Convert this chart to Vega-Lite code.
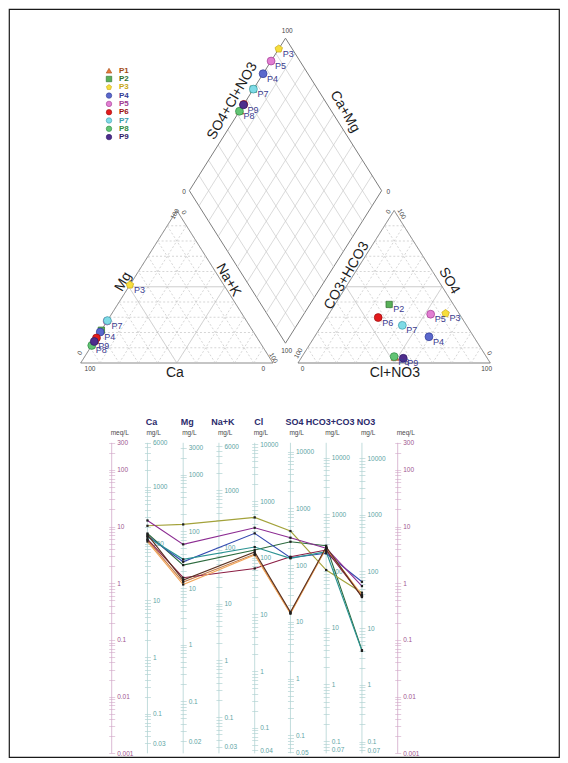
{
  "$schema": "https://vega.github.io/schema/vega-lite/v6.json",
  "width": 550,
  "height": 748,
  "padding": {"left": 9, "top": 9, "right": 9, "bottom": 6},
  "autosize": {"type": "none"},
  "background": "#ffffff",
  "config": {
    "view": {"stroke": "#1a1a1a", "strokeWidth": 1.2},
    "font": "Liberation Sans"
  },
  "datasets": {
    "levels": [{"k": 0}, {"k": 10}, {"k": 20}, {"k": 30}, {"k": 40}, {"k": 50}, {"k": 60}, {"k": 70}, {"k": 80}, {"k": 90}, {"k": 100}],
    "piper": [
      {"id": "P1", "Ca": 85.0, "Mg": 15.0, "NaK": 0, "HCO3": 47.5, "SO4": 4.0, "Cl": 48.5},
      {"id": "P2", "Ca": 78.5, "Mg": 21.5, "NaK": 0, "HCO3": 33.4, "SO4": 38.4, "Cl": 28.2},
      {"id": "P3", "Ca": 48.8, "Mg": 51.2, "NaK": 0, "HCO3": 7.0, "SO4": 32.5, "Cl": 60.5},
      {"id": "P4", "Ca": 79.7, "Mg": 20.3, "NaK": 0, "HCO3": 23.3, "SO4": 17.2, "Cl": 59.5},
      {"id": "P5", "Ca": 72.5, "Mg": 27.5, "NaK": 0, "HCO3": 15.0, "SO4": 32.0, "Cl": 53.0},
      {"id": "P6", "Ca": 83.6, "Mg": 16.4, "NaK": 0, "HCO3": 43.4, "SO4": 29.8, "Cl": 26.8},
      {"id": "P7", "Ca": 72.2, "Mg": 27.8, "NaK": 0, "HCO3": 33.4, "SO4": 24.7, "Cl": 41.9},
      {"id": "P8", "Ca": 88.5, "Mg": 11.5, "NaK": 0, "HCO3": 47.9, "SO4": 4.2, "Cl": 47.9},
      {"id": "P9", "Ca": 85.9, "Mg": 14.1, "NaK": 0, "HCO3": 43.7, "SO4": 3.1, "Cl": 53.2}
    ],
    "ann": [
      {"t": "Mg", "kind": "t", "edge": "l", "x1": 22.15, "y1": 53.3},
      {"t": "Ca", "kind": "t", "edge": "h", "x1": 49.0, "y1": -6.4},
      {"t": "Na+K", "kind": "t", "edge": "r", "x1": 76.75, "y1": 54.4},
      {"t": "SO4+Cl+NO3", "kind": "t", "edge": "l", "x1": 78.9, "y1": 171.8},
      {"t": "Ca+Mg", "kind": "t", "edge": "r", "x1": 137.4, "y1": 164.8},
      {"t": "CO3+HCO3", "kind": "t", "edge": "l", "x1": 138.3, "y1": 57.2},
      {"t": "SO4", "kind": "t", "edge": "r", "x1": 191.6, "y1": 53.9},
      {"t": "Cl+NO3", "kind": "t", "edge": "h", "x1": 163.4, "y1": -6.4},
      {"t": "100", "kind": "n", "edge": "h", "x1": 4.84, "y1": -3.9},
      {"t": "0", "kind": "n", "edge": "h", "x1": 94.96, "y1": -4.1},
      {"t": "0", "kind": "n", "edge": "l", "x1": -0.36, "y1": 6.56},
      {"t": "100", "kind": "n", "edge": "l", "x1": 49.04, "y1": 97.7},
      {"t": "0", "kind": "n", "edge": "r", "x1": 53.7, "y1": 98.6},
      {"t": "100", "kind": "n", "edge": "r", "x1": 100.2, "y1": 3.3},
      {"t": "0", "kind": "n", "edge": "h", "x1": 115.4, "y1": -4.1},
      {"t": "100", "kind": "n", "edge": "h", "x1": 211.1, "y1": -4.1},
      {"t": "100", "kind": "n", "edge": "l", "x1": 113.2, "y1": 6.4},
      {"t": "0", "kind": "n", "edge": "l", "x1": 159.96, "y1": 99.2},
      {"t": "100", "kind": "n", "edge": "r", "x1": 166.9, "y1": 97.7},
      {"t": "0", "kind": "n", "edge": "r", "x1": 212.5, "y1": 6.4},
      {"t": "100", "kind": "n", "edge": "h", "x1": 107.4, "y1": 217.9},
      {"t": "0", "kind": "n", "edge": "h", "x1": 53.7, "y1": 112.3},
      {"t": "0", "kind": "n", "edge": "h", "x1": 159.96, "y1": 112.3},
      {"t": "100", "kind": "n", "edge": "h", "x1": 107.1, "y1": 8.1}
    ],
    "schoeller": [
      {"id": "P1", "Ca": 5.78, "Mg": 1.05, "Cl": 3.27, "SO4": 0.30, "HCO3": 4.18, "NO3": 0.59},
      {"id": "P2", "Ca": 7.53, "Mg": 2.09, "Cl": 3.85, "SO4": 5.40, "HCO3": 4.58, "NO3": 0.066},
      {"id": "P3", "Ca": 10.3, "Mg": 10.9, "Cl": 14.5, "SO4": 8.33, "HCO3": 1.71, "NO3": 0.68},
      {"id": "P4", "Ca": 6.80, "Mg": 2.39, "Cl": 7.59, "SO4": 2.82, "HCO3": 3.37, "NO3": 1.06},
      {"id": "P5", "Ca": 12.8, "Mg": 4.85, "Cl": 9.52, "SO4": 6.35, "HCO3": 4.13, "NO3": 0.89},
      {"id": "P6", "Ca": 6.02, "Mg": 1.25, "Cl": 1.82, "SO4": 2.93, "HCO3": 3.85, "NO3": 0.59},
      {"id": "P7", "Ca": 6.53, "Mg": 2.64, "Cl": 4.35, "SO4": 2.75, "HCO3": 3.60, "NO3": 0.064},
      {"id": "P8", "Ca": 5.44, "Mg": 0.95, "Cl": 3.14, "SO4": 0.29, "HCO3": 4.18, "NO3": 0.62},
      {"id": "P9", "Ca": 7.22, "Mg": 1.14, "Cl": 3.55, "SO4": 0.31, "HCO3": 4.35, "NO3": 0.57}
    ],
    "cols": [
      {"key": "meqL", "i": 0, "head": "", "unit": "meq/L", "e": 1},
      {"key": "Ca", "i": 1, "head": "Ca", "unit": "mg/L", "e": 20.04},
      {"key": "Mg", "i": 2, "head": "Mg", "unit": "mg/L", "e": 12.15},
      {"key": "NaK", "i": 3, "head": "Na+K", "unit": "mg/L", "e": 23.0},
      {"key": "Cl", "i": 4, "head": "Cl", "unit": "mg/L", "e": 35.45},
      {"key": "SO4", "i": 5, "head": "SO4", "unit": "mg/L", "e": 48.03},
      {"key": "HCO3", "i": 6, "head": "HCO3+CO3", "unit": "mg/L", "e": 61.02},
      {"key": "NO3", "i": 7, "head": "NO3", "unit": "mg/L", "e": 62.0},
      {"key": "meqR", "i": 8, "head": "", "unit": "meq/L", "e": 1}
    ]
  },
  "layer": [
    {
      "encoding": {
        "x": {"field": "x1", "type": "quantitative", "scale": {"domain": [-37.285, 248.726], "nice": false, "zero": false}, "axis": null},
        "y": {"field": "y1", "type": "quantitative", "scale": {"domain": [-258.36, 232.131], "nice": false, "zero": false}, "axis": null}
      },
      "layer": [
        {
          "data": {"name": "levels"},
          "transform": [
            {"filter": "datum.k < 100"},
            {"calculate": "[1, 2, 3]", "as": "fam"},
            {"flatten": ["fam"]},
            {"calculate": "[0, 113]", "as": "off"},
            {"flatten": ["off"]},
            {"calculate": "datum.off + (datum.fam == 1 ? datum.k / 2 : datum.fam == 2 ? datum.k : 100 - datum.k)", "as": "x1"},
            {"calculate": "datum.fam == 1 ? datum.k : 0", "as": "y1"},
            {"calculate": "datum.off + (datum.fam == 1 ? 100 - datum.k / 2 : datum.fam == 2 ? 50 + datum.k / 2 : (100 - datum.k) / 2)", "as": "x2"},
            {"calculate": "datum.fam == 1 ? datum.k : 100 - datum.k", "as": "y2"}
          ],
          "mark": {"type": "rule"},
          "encoding": {
            "x2": {"field": "x2"},
            "y2": {"field": "y2"},
            "stroke": {"condition": [{"test": "datum.k == 0", "value": "#7d7d7d"}, {"test": "datum.k == 50", "value": "#b4b4b4"}], "value": "#c4c4c4"},
            "strokeWidth": {"condition": {"test": "datum.k == 0", "value": 1}, "value": 0.7},
            "strokeDash": {"condition": {"test": "datum.k == 0 || datum.k == 50", "value": [1, 0]}, "value": [2, 2]}
          }
        },
        {
          "data": {"name": "levels"},
          "transform": [
            {"calculate": "[1, -1]", "as": "fam"},
            {"flatten": ["fam"]},
            {"calculate": "106.5 - datum.fam * datum.k / 2", "as": "x1"},
            {"calculate": "13 + datum.k", "as": "y1"},
            {"calculate": "106.5 - datum.fam * datum.k / 2 + datum.fam * 50", "as": "x2"},
            {"calculate": "113 + datum.k", "as": "y2"}
          ],
          "mark": {"type": "rule"},
          "encoding": {
            "x2": {"field": "x2"},
            "y2": {"field": "y2"},
            "stroke": {"condition": {"test": "datum.k == 0 || datum.k == 100", "value": "#7d7d7d"}, "value": "#cacaca"},
            "strokeWidth": {"condition": {"test": "datum.k == 0 || datum.k == 100", "value": 1}, "value": 0.7}
          }
        },
        {
          "data": {"name": "ann"},
          "mark": {"type": "text", "align": "center", "baseline": "middle"},
          "encoding": {
            "text": {"field": "t"},
            "angle": {"condition": [{"test": "datum.edge == 'l'", "value": 300}, {"test": "datum.edge == 'r'", "value": 60}], "value": 0},
            "size": {"condition": {"test": "datum.kind == 't'", "value": 14}, "value": 6.5},
            "fill": {"condition": {"test": "datum.kind == 't'", "value": "#1c1c1c"}, "value": "#444444"}
          }
        },
        {
          "data": {"name": "piper"},
          "transform": [
            {"calculate": "[0, 1, 2]", "as": "part"},
            {"flatten": ["part"]},
            {"calculate": "datum.part == 0 ? datum.NaK + datum.Mg / 2 : datum.part == 1 ? 113 + datum.Cl + datum.SO4 / 2 : 106.5 - (datum.Ca + datum.Mg) / 2 + (datum.SO4 + datum.Cl) / 2", "as": "x1"},
            {"calculate": "datum.part == 0 ? datum.Mg : datum.part == 1 ? datum.SO4 : 13 + datum.Ca + datum.Mg + datum.SO4 + datum.Cl", "as": "y1"}
          ],
          "layer": [
            {
              "mark": {"type": "point", "filled": true, "strokeWidth": 0.7, "opacity": 1},
              "encoding": {
                "size": {"condition": {"test": "datum.id == 'P2'", "value": 40}, "value": 62},
                "shape": {
                  "field": "id", "type": "nominal",
                  "scale": {"domain": ["P1", "P2", "P3", "P4", "P5", "P6", "P7", "P8", "P9"], "range": ["triangle-up", "square", "M0,-1L0.951,-0.309L0.588,0.809L-0.588,0.809L-0.951,-0.309Z", "circle", "circle", "circle", "circle", "circle", "circle"]},
                  "legend": {"orient": "none", "legendX": 96, "legendY": 57.7, "title": null, "symbolSize": 30, "symbolStrokeWidth": 0.6, "labelFontSize": 8, "labelOffset": 6, "rowPadding": 0.3, "padding": 0, "symbolOpacity": 1, "encode": {"labels": {"update": {"fill": {"scale": "stroke", "field": "value"}}}}}
                },
                "fill": {
                  "field": "id", "type": "nominal",
                  "scale": {"domain": ["P1", "P2", "P3", "P4", "P5", "P6", "P7", "P8", "P9"], "range": ["#e87a3a", "#58b058", "#f6de3c", "#5a68cc", "#e27ed2", "#e31a1c", "#7fdbe6", "#62c474", "#4d2d8c"]},
                  "legend": {"orient": "none", "legendX": 96, "legendY": 57.7, "title": null, "symbolSize": 30, "symbolStrokeWidth": 0.6, "labelFontSize": 8, "labelOffset": 6, "rowPadding": 0.3, "padding": 0, "symbolOpacity": 1, "encode": {"labels": {"update": {"fill": {"scale": "stroke", "field": "value"}}}}}
                },
                "stroke": {
                  "field": "id", "type": "nominal",
                  "scale": {"domain": ["P1", "P2", "P3", "P4", "P5", "P6", "P7", "P8", "P9"], "range": ["#a24a14", "#2e6e2e", "#c8a814", "#323c96", "#a03c92", "#9a1010", "#3a9cab", "#2e8a44", "#2e1a66"]},
                  "legend": {"orient": "none", "legendX": 96, "legendY": 57.7, "title": null, "symbolSize": 30, "symbolStrokeWidth": 0.6, "labelFontSize": 8, "labelOffset": 6, "rowPadding": 0.3, "padding": 0, "symbolOpacity": 1, "encode": {"labels": {"update": {"fill": {"scale": "stroke", "field": "value"}}}}}
                }
              }
            },
            {
              "transform": [
                {"filter": "(datum.part == 0 && indexof(['P3', 'P4', 'P7', 'P8', 'P9'], datum.id) >= 0) || (datum.part == 1 && datum.id != 'P1') || (datum.part == 2 && indexof(['P3', 'P4', 'P5', 'P7', 'P8', 'P9'], datum.id) >= 0)"}
              ],
              "mark": {"type": "text", "align": "left", "baseline": "middle", "dx": 4, "dy": 5, "fontSize": 9, "color": "#3b3b8f"},
              "encoding": {"text": {"field": "id"}}
            }
          ]
        },
        {
          "data": {"values": [{}]},
          "mark": {"type": "text", "font": "Liberation Serif", "fontSize": 28, "color": "#111111", "align": "center", "baseline": "middle"},
          "encoding": {
            "x": {"datum": -20.38, "type": "quantitative"},
            "y": {"datum": -19.67, "type": "quantitative"},
            "text": {"value": "7"}
          }
        }
      ]
    },
    {
      "encoding": {
        "x": {"field": "i", "type": "quantitative", "scale": {"domain": [-2.87273, 12.51189], "nice": false, "zero": false}, "axis": null}
      },
      "layer": [
        {
          "data": {"name": "cols"},
          "transform": [{"filter": "datum.i == 0"}, {"calculate": "datum.e * 0.001", "as": "lo"}, {"calculate": "datum.e * 300", "as": "hi"}],
          "mark": {"type": "rule", "color": "#d2a8c8", "strokeWidth": 0.8},
          "encoding": {
            "y": {"field": "lo", "type": "quantitative", "scale": {"type": "log", "nice": false, "range": [744.3, 433.8]},
              "axis": {"orient": "right", "offset": -450.3, "title": null, "domain": false, "grid": false, "tickCount": 40, "tickSize": 6, "tickWidth": 0.6, "tickColor": "#d2a8c8", "labelPadding": 2, "labelFontSize": 6.5, "labelColor": "#a0568f", "labelOverlap": false, "labelBound": false, "labelFlush": false, "labelBaseline": "middle",
                "labelExpr": "datum.index == 0 || datum.index == 1 || abs(log(datum.value) / LN10 - round(log(datum.value) / LN10)) < 0.000001 ? '' + datum.value : ''"}},
            "y2": {"field": "hi"}
          }
        },
        {
          "data": {"name": "cols"},
          "transform": [{"filter": "datum.i == 1"}, {"calculate": "datum.e * 0.001", "as": "lo"}, {"calculate": "datum.e * 300", "as": "hi"}],
          "mark": {"type": "rule", "color": "#b2d3d3", "strokeWidth": 0.8},
          "encoding": {
            "y": {"field": "lo", "type": "quantitative", "scale": {"type": "log", "nice": false, "range": [744.3, 433.8]},
              "axis": {"orient": "right", "offset": -414.55, "title": null, "domain": false, "grid": false, "tickCount": 40, "tickSize": 6, "tickWidth": 0.6, "tickColor": "#a6cccc", "labelPadding": 2, "labelFontSize": 6.5, "labelColor": "#5ea5a5", "labelOverlap": false, "labelBound": false, "labelFlush": false, "labelBaseline": "middle",
                "labelExpr": "datum.index == 0 || datum.index == 1 || abs(log(datum.value) / LN10 - round(log(datum.value) / LN10)) < 0.000001 ? '' + datum.value : ''"}},
            "y2": {"field": "hi"}
          }
        },
        {
          "data": {"name": "cols"},
          "transform": [{"filter": "datum.i == 2"}, {"calculate": "datum.e * 0.001", "as": "lo"}, {"calculate": "datum.e * 300", "as": "hi"}],
          "mark": {"type": "rule", "color": "#b2d3d3", "strokeWidth": 0.8},
          "encoding": {
            "y": {"field": "lo", "type": "quantitative", "scale": {"type": "log", "nice": false, "range": [744.3, 433.8]},
              "axis": {"orient": "right", "offset": -378.8, "title": null, "domain": false, "grid": false, "tickCount": 40, "tickSize": 6, "tickWidth": 0.6, "tickColor": "#a6cccc", "labelPadding": 2, "labelFontSize": 6.5, "labelColor": "#5ea5a5", "labelOverlap": false, "labelBound": false, "labelFlush": false, "labelBaseline": "middle",
                "labelExpr": "datum.index == 0 || datum.index == 1 || abs(log(datum.value) / LN10 - round(log(datum.value) / LN10)) < 0.000001 ? '' + datum.value : ''"}},
            "y2": {"field": "hi"}
          }
        },
        {
          "data": {"name": "cols"},
          "transform": [{"filter": "datum.i == 3"}, {"calculate": "datum.e * 0.001", "as": "lo"}, {"calculate": "datum.e * 300", "as": "hi"}],
          "mark": {"type": "rule", "color": "#b2d3d3", "strokeWidth": 0.8},
          "encoding": {
            "y": {"field": "lo", "type": "quantitative", "scale": {"type": "log", "nice": false, "range": [744.3, 433.8]},
              "axis": {"orient": "right", "offset": -343.05, "title": null, "domain": false, "grid": false, "tickCount": 40, "tickSize": 6, "tickWidth": 0.6, "tickColor": "#a6cccc", "labelPadding": 2, "labelFontSize": 6.5, "labelColor": "#5ea5a5", "labelOverlap": false, "labelBound": false, "labelFlush": false, "labelBaseline": "middle",
                "labelExpr": "datum.index == 0 || datum.index == 1 || abs(log(datum.value) / LN10 - round(log(datum.value) / LN10)) < 0.000001 ? '' + datum.value : ''"}},
            "y2": {"field": "hi"}
          }
        },
        {
          "data": {"name": "cols"},
          "transform": [{"filter": "datum.i == 4"}, {"calculate": "datum.e * 0.001", "as": "lo"}, {"calculate": "datum.e * 300", "as": "hi"}],
          "mark": {"type": "rule", "color": "#b2d3d3", "strokeWidth": 0.8},
          "encoding": {
            "y": {"field": "lo", "type": "quantitative", "scale": {"type": "log", "nice": false, "range": [744.3, 433.8]},
              "axis": {"orient": "right", "offset": -307.3, "title": null, "domain": false, "grid": false, "tickCount": 40, "tickSize": 6, "tickWidth": 0.6, "tickColor": "#a6cccc", "labelPadding": 2, "labelFontSize": 6.5, "labelColor": "#5ea5a5", "labelOverlap": false, "labelBound": false, "labelFlush": false, "labelBaseline": "middle",
                "labelExpr": "datum.index == 0 || datum.index == 1 || abs(log(datum.value) / LN10 - round(log(datum.value) / LN10)) < 0.000001 ? '' + datum.value : ''"}},
            "y2": {"field": "hi"}
          }
        },
        {
          "data": {"name": "cols"},
          "transform": [{"filter": "datum.i == 5"}, {"calculate": "datum.e * 0.001", "as": "lo"}, {"calculate": "datum.e * 300", "as": "hi"}],
          "mark": {"type": "rule", "color": "#b2d3d3", "strokeWidth": 0.8},
          "encoding": {
            "y": {"field": "lo", "type": "quantitative", "scale": {"type": "log", "nice": false, "range": [744.3, 433.8]},
              "axis": {"orient": "right", "offset": -271.55, "title": null, "domain": false, "grid": false, "tickCount": 40, "tickSize": 6, "tickWidth": 0.6, "tickColor": "#a6cccc", "labelPadding": 2, "labelFontSize": 6.5, "labelColor": "#5ea5a5", "labelOverlap": false, "labelBound": false, "labelFlush": false, "labelBaseline": "middle",
                "labelExpr": "datum.index == 0 || datum.index == 1 || abs(log(datum.value) / LN10 - round(log(datum.value) / LN10)) < 0.000001 ? '' + datum.value : ''"}},
            "y2": {"field": "hi"}
          }
        },
        {
          "data": {"name": "cols"},
          "transform": [{"filter": "datum.i == 6"}, {"calculate": "datum.e * 0.001", "as": "lo"}, {"calculate": "datum.e * 300", "as": "hi"}],
          "mark": {"type": "rule", "color": "#b2d3d3", "strokeWidth": 0.8},
          "encoding": {
            "y": {"field": "lo", "type": "quantitative", "scale": {"type": "log", "nice": false, "range": [744.3, 433.8]},
              "axis": {"orient": "right", "offset": -235.8, "title": null, "domain": false, "grid": false, "tickCount": 40, "tickSize": 6, "tickWidth": 0.6, "tickColor": "#a6cccc", "labelPadding": 2, "labelFontSize": 6.5, "labelColor": "#5ea5a5", "labelOverlap": false, "labelBound": false, "labelFlush": false, "labelBaseline": "middle",
                "labelExpr": "datum.index == 0 || datum.index == 1 || abs(log(datum.value) / LN10 - round(log(datum.value) / LN10)) < 0.000001 ? '' + datum.value : ''"}},
            "y2": {"field": "hi"}
          }
        },
        {
          "data": {"name": "cols"},
          "transform": [{"filter": "datum.i == 7"}, {"calculate": "datum.e * 0.001", "as": "lo"}, {"calculate": "datum.e * 300", "as": "hi"}],
          "mark": {"type": "rule", "color": "#b2d3d3", "strokeWidth": 0.8},
          "encoding": {
            "y": {"field": "lo", "type": "quantitative", "scale": {"type": "log", "nice": false, "range": [744.3, 433.8]},
              "axis": {"orient": "right", "offset": -200.05, "title": null, "domain": false, "grid": false, "tickCount": 40, "tickSize": 6, "tickWidth": 0.6, "tickColor": "#a6cccc", "labelPadding": 2, "labelFontSize": 6.5, "labelColor": "#5ea5a5", "labelOverlap": false, "labelBound": false, "labelFlush": false, "labelBaseline": "middle",
                "labelExpr": "datum.index == 0 || datum.index == 1 || abs(log(datum.value) / LN10 - round(log(datum.value) / LN10)) < 0.000001 ? '' + datum.value : ''"}},
            "y2": {"field": "hi"}
          }
        },
        {
          "data": {"name": "cols"},
          "transform": [{"filter": "datum.i == 8"}, {"calculate": "datum.e * 0.001", "as": "lo"}, {"calculate": "datum.e * 300", "as": "hi"}],
          "mark": {"type": "rule", "color": "#d2a8c8", "strokeWidth": 0.8},
          "encoding": {
            "y": {"field": "lo", "type": "quantitative", "scale": {"type": "log", "nice": false, "range": [744.3, 433.8]},
              "axis": {"orient": "right", "offset": -164.3, "title": null, "domain": false, "grid": false, "tickCount": 40, "tickSize": 6, "tickWidth": 0.6, "tickColor": "#d2a8c8", "labelPadding": 2, "labelFontSize": 6.5, "labelColor": "#a0568f", "labelOverlap": false, "labelBound": false, "labelFlush": false, "labelBaseline": "middle",
                "labelExpr": "datum.index == 0 || datum.index == 1 || abs(log(datum.value) / LN10 - round(log(datum.value) / LN10)) < 0.000001 ? '' + datum.value : ''"}},
            "y2": {"field": "hi"}
          }
        },
        {
          "layer": [
            {
              "data": {"name": "schoeller"},
              "transform": [
                {"fold": ["Ca", "Mg", "Cl", "SO4", "HCO3", "NO3"], "as": ["ion", "meq"]},
                {"lookup": "ion", "from": {"data": {"name": "cols"}, "key": "key", "fields": ["i"]}}
              ],
              "layer": [
                {
                  "mark": {"type": "line", "strokeWidth": 1.1},
                  "encoding": {
                    "y": {"field": "meq", "type": "quantitative", "scale": {"type": "log", "domain": [0.001, 300], "range": [744.3, 433.8], "nice": false}, "axis": null},
                    "color": {
                      "field": "id", "type": "nominal",
                      "scale": {"domain": ["P1", "P2", "P3", "P4", "P5", "P6", "P7", "P8", "P9"], "range": ["#c27a48", "#2c6a3e", "#a3a23a", "#3349b0", "#8c2c92", "#8a1c42", "#2b9393", "#f2a65a", "#5b3222"]},
                      "legend": {"orient": "none", "legendX": 445, "legendY": 542.5, "title": null, "symbolType": "stroke", "symbolSize": 81, "symbolStrokeWidth": 1.3, "labelFontSize": 7, "labelFontWeight": "bold", "labelOffset": 4, "rowPadding": 0, "padding": 0, "encode": {"labels": {"update": {"fill": {"scale": "color", "field": "value"}}}}}
                    }
                  }
                },
                {
                  "mark": {"type": "square", "size": 5, "color": "#1e1e1e", "opacity": 1},
                  "encoding": {
                    "y": {"field": "meq", "type": "quantitative", "axis": null},
                    "detail": {"field": "id"}
                  }
                }
              ]
            },
            {
              "data": {"name": "cols"},
              "mark": {"type": "text", "fontWeight": "bold", "fontSize": 9, "color": "#2b2b6b", "align": "center", "baseline": "middle", "dx": 4, "dy": -21},
              "encoding": {
                "y": {"datum": 300, "type": "quantitative", "axis": null},
                "text": {"field": "head"}
              }
            },
            {
              "data": {"name": "cols"},
              "mark": {"type": "text", "fontSize": 6.5, "color": "#4a4a4a", "align": "left", "baseline": "middle", "dx": -1, "dy": -10},
              "encoding": {
                "y": {"datum": 300, "type": "quantitative", "axis": null},
                "text": {"field": "unit"}
              }
            },
            {
              "data": {"values": [{}]},
              "mark": {"type": "text", "fontWeight": "bold", "fontSize": 9.5, "color": "#8d8d8d", "align": "left", "baseline": "middle", "dy": -14},
              "encoding": {
                "x": {"datum": 9.1, "type": "quantitative"},
                "y": {"datum": 300, "type": "quantitative", "axis": null},
                "text": {"value": "Schöeller"}
              }
            },
            {
              "data": {"values": [{}]},
              "mark": {"type": "text", "fontWeight": "bold", "fontSize": 9.5, "color": "#8d8d8d", "align": "left", "baseline": "middle", "dy": -1},
              "encoding": {
                "x": {"datum": 9.1, "type": "quantitative"},
                "y": {"datum": 300, "type": "quantitative", "axis": null},
                "text": {"value": "Berkaloff"}
              }
            },
            {
              "data": {"values": [{}]},
              "mark": {"type": "text", "font": "Liberation Serif", "fontSize": 28, "color": "#111111", "align": "center", "baseline": "middle"},
              "encoding": {
                "x": {"datum": -1.964, "type": "quantitative"},
                "y": {"datum": 0.0014, "type": "quantitative", "axis": null},
                "text": {"value": "8"}
              }
            }
          ]
        }
      ],
      "resolve": {"scale": {"y": "independent"}}
    }
  ],
  "resolve": {"scale": {"x": "independent", "y": "independent"}}
}
